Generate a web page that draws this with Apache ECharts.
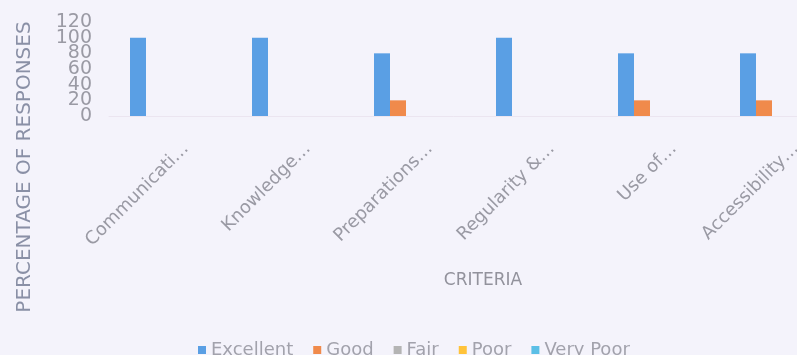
<!DOCTYPE html>
<html>
<head>
<meta charset="utf-8">
<script src="https://cdn.jsdelivr.net/npm/echarts@6/dist/echarts.min.js"></script>
<style>
    html, body { margin: 0; padding: 0; background: #f4f3fb; }
    #chart { width: 797px; height: 355px; }
</style>
</head>
<body>
<div id="chart"></div>
<script>
    // 类目和数据
    var categories = ['Communicati…', 'Knowledge…', 'Preparations…', 'Regularity &…', 'Use of…', 'Accessibility…'];
    var excellent = [100, 100, 80, 100, 80, 80];
    var good = [0, 0, 20, 0, 20, 20];
    var fair = [0, 0, 0, 0, 0, 0];
    var poor = [0, 0, 0, 0, 0, 0];
    var veryPoor = [0, 0, 0, 0, 0, 0];
    var yTicks = [0, 20, 40, 60, 80, 100, 120];

    var seriesNames = ['Excellent', 'Good', 'Fair', 'Poor', 'Very Poor'];
    var seriesData = [excellent, good, fair, poor, veryPoor];
    var colors = ['#5a9fe4', '#f08a4b', '#b4b4b4', '#ffc33a', '#5bbfe6'];

    var myChart = echarts.init(document.getElementById('chart'));

    var series = [];
    seriesData.forEach(function (d, i) {
        series.push({
            name: seriesNames[i],
            type: 'bar',
            barWidth: 16,
            barGap: '0%',
            itemStyle: { color: colors[i] },
            data: d
        });
    });

    var labelColor = '#9a9aa4';
    var font = 'DejaVu Sans';

    // y轴标签太挤会被自动隐藏，所以拆成两根轴，各显示一半
    function yAxisFor(keepOdd) {
        return {
            type: 'value',
            gridIndex: 0,
            position: 'left',
            min: yTicks[0],
            max: yTicks[yTicks.length - 1],
            interval: 20,
            axisLine: { show: false },
            axisTick: { show: false },
            splitLine: { show: false },
            axisLabel: {
                margin: 17,
                color: labelColor,
                fontSize: 19,
                fontFamily: font,
                showMinLabel: true,
                showMaxLabel: true,
                formatter: function (v) {
                    var odd = (yTicks.indexOf(v) % 2) === 1;
                    return odd === keepOdd ? String(v) : '';
                }
            }
        };
    }

    var hiddenY = { type: 'value', gridIndex: 1, show: false, min: 0, max: 120 };

    myChart.setOption({
        backgroundColor: '#f4f3fb',
        animation: false,
        color: colors,
        textStyle: { fontFamily: font },
        grid: [
            { left: 109, right: -44, top: 22, bottom: 239, containLabel: false, outerBoundsMode: 'none' },
            // 只用来放x轴标签，整体右移一点
            { left: 125, right: -60, top: 22, bottom: 239, containLabel: false, outerBoundsMode: 'none' }
        ],
        legend: {
            data: seriesNames,
            left: 193,
            top: 336,
            icon: 'rect',
            itemWidth: 8,
            itemHeight: 8,
            itemGap: 20,
            textStyle: { color: '#a2a2ac', fontSize: 18, fontFamily: font }
        },
        xAxis: [
            {
                type: 'category',
                gridIndex: 0,
                data: categories,
                axisLine: { show: true, lineStyle: { color: '#ebe5f0' } },
                axisTick: { show: false },
                axisLabel: { show: false }
            },
            {
                type: 'category',
                gridIndex: 1,
                data: categories,
                axisLine: { show: false },
                axisTick: { show: false },
                axisLabel: {
                    show: true,
                    rotate: 45,
                    margin: 30,
                    interval: 0,
                    color: labelColor,
                    fontSize: 18,
                    fontFamily: font
                }
            }
        ],
        yAxis: [yAxisFor(false), hiddenY, yAxisFor(true)],
        graphic: [
            {
                type: 'text',
                x: 25,
                y: 167,
                rotation: Math.PI / 2,
                style: {
                    text: 'PERCENTAGE OF RESPONSES',
                    fill: '#8a90a6',
                    fontSize: 20,
                    fontFamily: font,
                    textAlign: 'center',
                    textVerticalAlign: 'middle'
                }
            },
            {
                type: 'text',
                x: 483,
                y: 281,
                style: {
                    text: 'CRITERIA',
                    fill: '#92929c',
                    fontSize: 17,
                    fontFamily: font,
                    textAlign: 'center',
                    textVerticalAlign: 'middle'
                }
            }
        ],
        series: series
    });
</script>
</body>
</html>
